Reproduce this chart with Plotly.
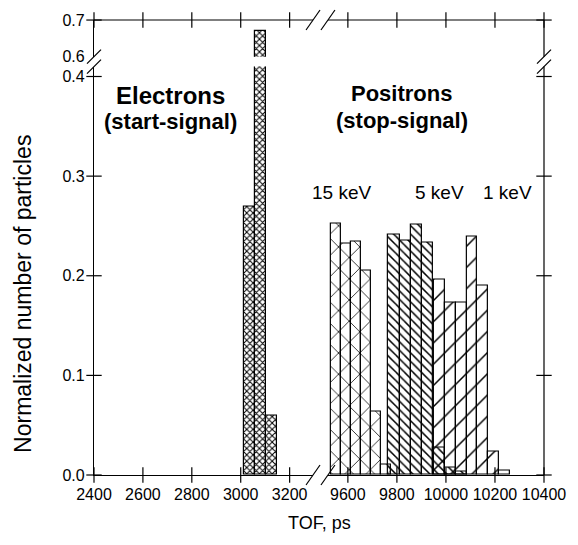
import plotly.graph_objects as go

# ---------------- data ----------------
tick_tof_left = [2400, 2600, 2800, 3000, 3200]
tick_tof_right = [9600, 9800, 10000, 10200, 10400]
tick_tof_right_labels = ["9600", "9800", "10000", "10200", "10400"]
tick_y_lower = [0.0, 0.1, 0.2, 0.3, 0.4]
tick_y_lower_labels = ["0.0", "0.1", "0.2", "0.3", "0.4"]
tick_y_upper = [0.6, 0.7]
tick_y_upper_labels = ["0.6", "0.7"]

electron_tof = [3036, 3081, 3126]
electron_frac = [0.269, 0.670, 0.060]

kev15_tof = [9551, 9592, 9633, 9674, 9715, 9756]
kev15_frac = [0.252, 0.232, 0.234, 0.205, 0.064, 0.010]

kev5_tof = [9788, 9834, 9880, 9926, 9972, 10018, 10064]
kev5_frac = [0.2415, 0.235, 0.2515, 0.233, 0.028, 0.007, 0.003]

kev1_tof = [9974, 10018, 10062, 10106, 10150, 10194, 10238]
kev1_frac = [0.196, 0.173, 0.173, 0.2395, 0.190, 0.024, 0.004]

# ---------------- geometry ----------------
W, H = 578, 545
ML, MR, MT, MB = 94, 32, 16, 70
PW, PH = W - ML - MR, H - MT - MB


def px(xp):
    return (xp - ML) / PW


def py(yp):
    return (H - MB - yp) / PH


FONT = "Liberation Sans, Arial, Helvetica, sans-serif"
BLACK = "black"

fig = go.Figure()


def bars(x, y, width, shape, size, solidity, xa, ya):
    return go.Bar(
        x=x, y=y, width=width, xaxis=xa, yaxis=ya,
        marker=dict(
            color=BLACK,
            line=dict(color=BLACK, width=1.2),
            pattern=dict(shape=shape, size=size, solidity=solidity,
                         fillmode="replace", fgcolor=BLACK,
                         bgcolor="rgba(0,0,0,0)"),
        ),
        showlegend=False, hoverinfo="skip",
    )


# electrons (both lower and upper y segments)
fig.add_trace(bars(electron_tof, electron_frac, 45, "x", 4.5, 0.4, "x", "y"))
fig.add_trace(bars(electron_tof, electron_frac, 45, "x", 4.5, 0.4, "x", "y2"))
# positrons
fig.add_trace(bars(kev15_tof, kev15_frac, 41, "x", 15, 0.1, "x2", "y"))
fig.add_trace(bars(kev5_tof, kev5_frac, 46, "\\", 6, 0.25, "x2", "y"))
fig.add_trace(bars(kev1_tof, kev1_frac, 44, "/", 15, 0.1, "x2", "y"))


# cross ticks drawn as line markers on the axis lines
def tick_trace(x, y, symbol, xa, ya):
    return go.Scatter(
        x=x, y=y, xaxis=xa, yaxis=ya, mode="markers", cliponaxis=False,
        marker=dict(symbol=symbol, size=11, color=BLACK,
                    line=dict(color=BLACK, width=1.2)),
        showlegend=False, hoverinfo="skip",
    )


fig.add_trace(tick_trace(tick_tof_left, [tick_y_lower[0]] * len(tick_tof_left), "line-ns-open", "x", "y"))
fig.add_trace(tick_trace(tick_tof_right, [tick_y_lower[0]] * len(tick_tof_right), "line-ns-open", "x2", "y"))
fig.add_trace(tick_trace(tick_tof_left, [tick_y_upper[-1]] * len(tick_tof_left), "line-ns-open", "x", "y2"))
fig.add_trace(tick_trace(tick_tof_right, [tick_y_upper[-1]] * len(tick_tof_right), "line-ns-open", "x2", "y2"))
fig.add_trace(tick_trace([tick_tof_left[0]] * len(tick_y_lower), tick_y_lower, "line-ew-open", "x", "y"))
fig.add_trace(tick_trace([tick_tof_right[-1]] * len(tick_y_lower), tick_y_lower, "line-ew-open", "x2", "y"))
fig.add_trace(tick_trace([tick_tof_left[0]], [tick_y_upper[-1]], "line-ew-open", "x", "y2"))
fig.add_trace(tick_trace([tick_tof_right[-1]], [tick_y_upper[-1]], "line-ew-open", "x2", "y2"))

# ---------------- axes ----------------
X_LEFT_END = 314
X_RIGHT_START = 329
Y_LOWER_TOP = 63
Y_UPPER_BOTTOM = 53

common_axis = dict(
    showgrid=False, zeroline=False, showline=True, linecolor=BLACK, linewidth=1.2,
    ticks="outside", ticklen=5, tickcolor="rgba(0,0,0,0)", tickangle=0,
    tickfont=dict(family=FONT, size=16, color=BLACK),
)

x_left_px_per = (290.5 - 94) / 800.0
x_right_px_per = (546.5 - 349.5) / 800.0

fig.update_layout(
    xaxis=dict(common_axis, domain=[0, px(X_LEFT_END)],
               range=[2400, 2400 + (X_LEFT_END - ML) / x_left_px_per],
               tickvals=tick_tof_left, anchor="y"),
    xaxis2=dict(common_axis, domain=[px(X_RIGHT_START), 1],
                range=[10400 - (W - MR - X_RIGHT_START) / x_right_px_per, 10400],
                tickvals=tick_tof_right, ticktext=tick_tof_right_labels, anchor="y"),
    yaxis=dict(common_axis, domain=[0, py(Y_LOWER_TOP)],
               range=[0, (H - MB - Y_LOWER_TOP) / 1005.0],
               tickvals=tick_y_lower, ticktext=tick_y_lower_labels, anchor="x"),
    yaxis2=dict(common_axis, domain=[py(Y_UPPER_BOTTOM), 1],
                range=[0.5999, 0.7001],
                tickvals=tick_y_upper, ticktext=tick_y_upper_labels, anchor="x"),
    barmode="overlay",
    bargap=0,
    width=W, height=H,
    margin=dict(l=ML, r=MR, t=MT, b=MB, pad=0),
    paper_bgcolor="white", plot_bgcolor="white",
    font=dict(family=FONT, color=BLACK),
    showlegend=False,
)

# frame lines (top & right) and axis-break slashes
line_style = dict(color=BLACK, width=1.2)
shapes = [
    dict(type="line", xref="x domain", yref="y2 domain", x0=0, x1=1, y0=1, y1=1, line=line_style),
    dict(type="line", xref="x2 domain", yref="y2 domain", x0=0, x1=1, y0=1, y1=1, line=line_style),
    dict(type="line", xref="x2 domain", yref="y domain", x0=1, x1=1, y0=0, y1=1, line=line_style),
    dict(type="line", xref="x2 domain", yref="y2 domain", x0=1, x1=1, y0=0, y1=1, line=line_style),
]


def slash(xref, xanchor, yref, yanchor, dx, dy):
    return dict(type="line", xref=xref, yref=yref, xsizemode="pixel", ysizemode="pixel",
                xanchor=xanchor, yanchor=yanchor, x0=-dx, x1=dx, y0=-dy, y1=dy,
                line=line_style)


# x breaks (bottom & top)
shapes += [
    slash("x domain", 1, "y domain", 0, 7, 10),
    slash("x2 domain", 0, "y domain", 0, 7, 10),
    slash("x domain", 1, "y2 domain", 1, 7, 10),
    slash("x2 domain", 0, "y2 domain", 1, 7, 10),
]
# y breaks (left & right)
shapes += [
    slash("x domain", 0, "y domain", 1, 7, 7),
    slash("x domain", 0, "y2 domain", 0, 7, 7),
    slash("x2 domain", 1, "y domain", 1, 7, 7),
    slash("x2 domain", 1, "y2 domain", 0, 7, 7),
]
fig.update_layout(shapes=shapes)

# ---------------- text ----------------
def ann(text, xp, yp, size, bold=False, angle=0):
    return dict(text=("<b>%s</b>" % text) if bold else text, x=px(xp), y=py(yp),
                xref="paper", yref="paper", xanchor="center", yanchor="middle",
                showarrow=False, textangle=angle,
                font=dict(family=FONT, size=size, color=BLACK))


fig.update_layout(annotations=[
    ann("Electrons", 171, 92, 24, bold=True),
    ann("(start-signal)", 171, 118, 22, bold=True),
    ann("Positrons", 403, 90, 22, bold=True),
    ann("(stop-signal)", 403, 117, 22, bold=True),
    ann("15 keV", 343, 190, 19),
    ann("5 keV", 441, 190, 19),
    ann("1 keV", 509, 190, 19),
    ann("TOF, ps", 320, 523, 18),
    ann("Normalized number of particles", 22, 292, 23, angle=-90),
])

fig.write_html("out.html", config={"displayModeBar": False},
               post_script="document.body.style.margin='0px';")
